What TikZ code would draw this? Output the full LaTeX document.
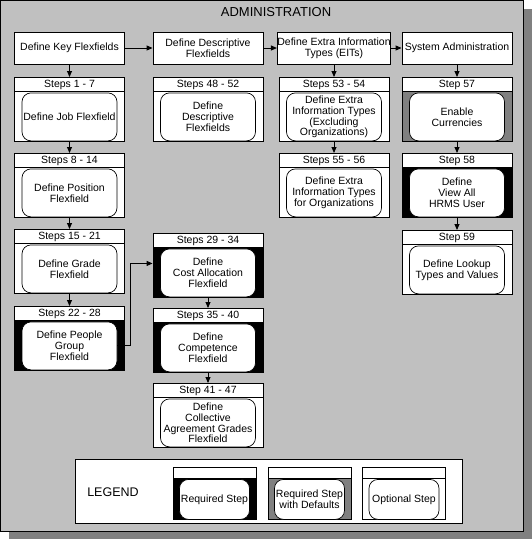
\documentclass[tikz,border=0pt]{standalone}
\usepackage{fontspec}
\setmainfont{Liberation Sans}
\usetikzlibrary{arrows.meta,calc}
\definecolor{bggray}{HTML}{C0C0C0}
\definecolor{shgray}{HTML}{808080}
\tikzset{
 lbl/.style={font=\fontsize{10.5}{10.8}\selectfont, align=center, inner sep=0pt},
 topbox/.style={draw, fill=white, line width=0.9pt, minimum width=110pt, minimum height=32pt, lbl},
 sbox/.style={draw, line width=0.9pt, minimum width=110pt, minimum height=64pt, inner sep=0pt},
 shead/.style={draw, fill=white, line width=0.9pt, minimum width=110pt, minimum height=14pt, lbl},
 sinner/.style={draw, fill=white, line width=0.7pt, rounded corners=9pt, minimum width=95pt, minimum height=48pt, lbl},
 lbox/.style={draw, line width=0.9pt, minimum width=83pt, minimum height=52pt, inner sep=0pt},
 lhead/.style={draw, fill=white, line width=0.9pt, minimum width=83pt, minimum height=11pt, inner sep=0pt},
 linner/.style={draw, fill=white, line width=0.7pt, rounded corners=9pt, minimum width=70pt, minimum height=40pt, lbl},
 conn/.style={line width=0.9pt, -{Triangle[length=6pt,width=5pt]}},
}
% #1 name, #2 x centre, #3 top y, #4 body fill, #5 header, #6 text
\newcommand{\stepbox}[6]{%
  \node[sbox, fill=#4, anchor=north] (#1) at (#2,#3) {};
  \node[shead, anchor=north] (#1h) at (#1.north) {#5};
  \node[sinner] (#1b) at ([yshift=25pt]#1.south) {#6};
}
\newcommand{\legitem}[4]{%
  \node[lbox, fill=#3, anchor=north] (#1) at (#2,467) {};
  \node[lhead, anchor=north] (#1h) at (#1.north) {};
  \node[linner] (#1b) at ([yshift=20.5pt]#1.south) {#4};
}
\begin{document}
\begin{tikzpicture}[x=1pt,y=-1pt]
\useasboundingbox (0,0) rectangle (532,539);
% frame with shadow
\fill[shgray] (9,9) rectangle (532,539);
\draw[fill=bggray, line width=1pt] (0.5,0.5) rectangle (523,531);
\node[font=\fontsize{13}{13}\selectfont, inner sep=0pt] (title) at (276,12) {ADMINISTRATION};
% top row
\node[topbox] (key) at (69.5,48) {Define Key Flexfields};
\node[topbox] (desc) at (208,48) {Define Descriptive\\Flexfields};
\node[topbox] (eit) at (334,48) {Define Extra Information\\Types (EITs)};
\node[topbox] (sys) at (457,48) {System Administration};
% column 1
\stepbox{s1}{69.5}{77}{white}{Steps 1 - 7}{Define Job Flexfield}
\stepbox{s8}{69.5}{153}{white}{Steps 8 - 14}{Define Position\\Flexfield}
\stepbox{s15}{69.5}{229}{white}{Steps 15 - 21}{Define Grade\\Flexfield}
\stepbox{s22}{69.5}{306}{black}{Steps 22 - 28}{Define People\\Group\\Flexfield}
% column 2
\stepbox{s48}{208}{77}{white}{Steps 48 - 52}{Define\\Descriptive\\Flexfields}
\stepbox{s29}{208}{233}{black}{Steps 29 - 34}{Define\\Cost Allocation\\Flexfield}
\stepbox{s35}{208}{308}{black}{Steps 35 - 40}{Define\\Competence\\Flexfield}
\stepbox{s41}{208}{383}{white}{Step 41 - 47}{Define\\Collective\\Agreement Grades\\Flexfield}
% column 3
\stepbox{s53}{334}{77}{white}{Steps 53 - 54}{Define Extra\\Information Types\\(Excluding\\Organizations)}
\stepbox{s55}{334}{153}{white}{Steps 55 - 56}{Define Extra\\Information Types\\for Organizations}
% column 4
\stepbox{s57}{457}{77}{shgray}{Step 57}{Enable\\Currencies}
\stepbox{s58}{457}{153}{black}{Step 58}{Define\\View All\\HRMS User}
\stepbox{s59}{457}{230}{white}{Step 59}{Define Lookup\\Types and Values}
% connectors
\draw[conn] (key) -- (desc);
\draw[conn] (desc) -- (eit);
\draw[conn] (eit) -- (sys);
\draw[conn] (key) -- (s1);
\draw[conn] (eit) -- (s53);
\draw[conn] (sys) -- (s57);
\draw[conn] (s1) -- (s8);
\draw[conn] (s8) -- (s15);
\draw[conn] (s15) -- (s22);
\draw[conn] (s22b.east) -- ++(13,0) coordinate (elb) |- ([yshift=2pt]s29.west);
\draw[conn] (s29) -- (s35);
\draw[conn] (s35) -- (s41);
\draw[conn] (s53) -- (s55);
\draw[conn] (s57) -- (s58);
\draw[conn] (s58) -- (s59);
% legend
\draw[fill=white, line width=0.9pt] (75,459) rectangle (462,523);
\node[font=\fontsize{12.5}{12.5}\selectfont, inner sep=0pt] (leg) at (113,492) {LEGEND};
\legitem{lreq}{214.5}{black}{Required Step}
\legitem{ldef}{309.5}{shgray}{Required Step\\with Defaults}
\legitem{lopt}{404}{white}{Optional Step}
\end{tikzpicture}
\end{document}
